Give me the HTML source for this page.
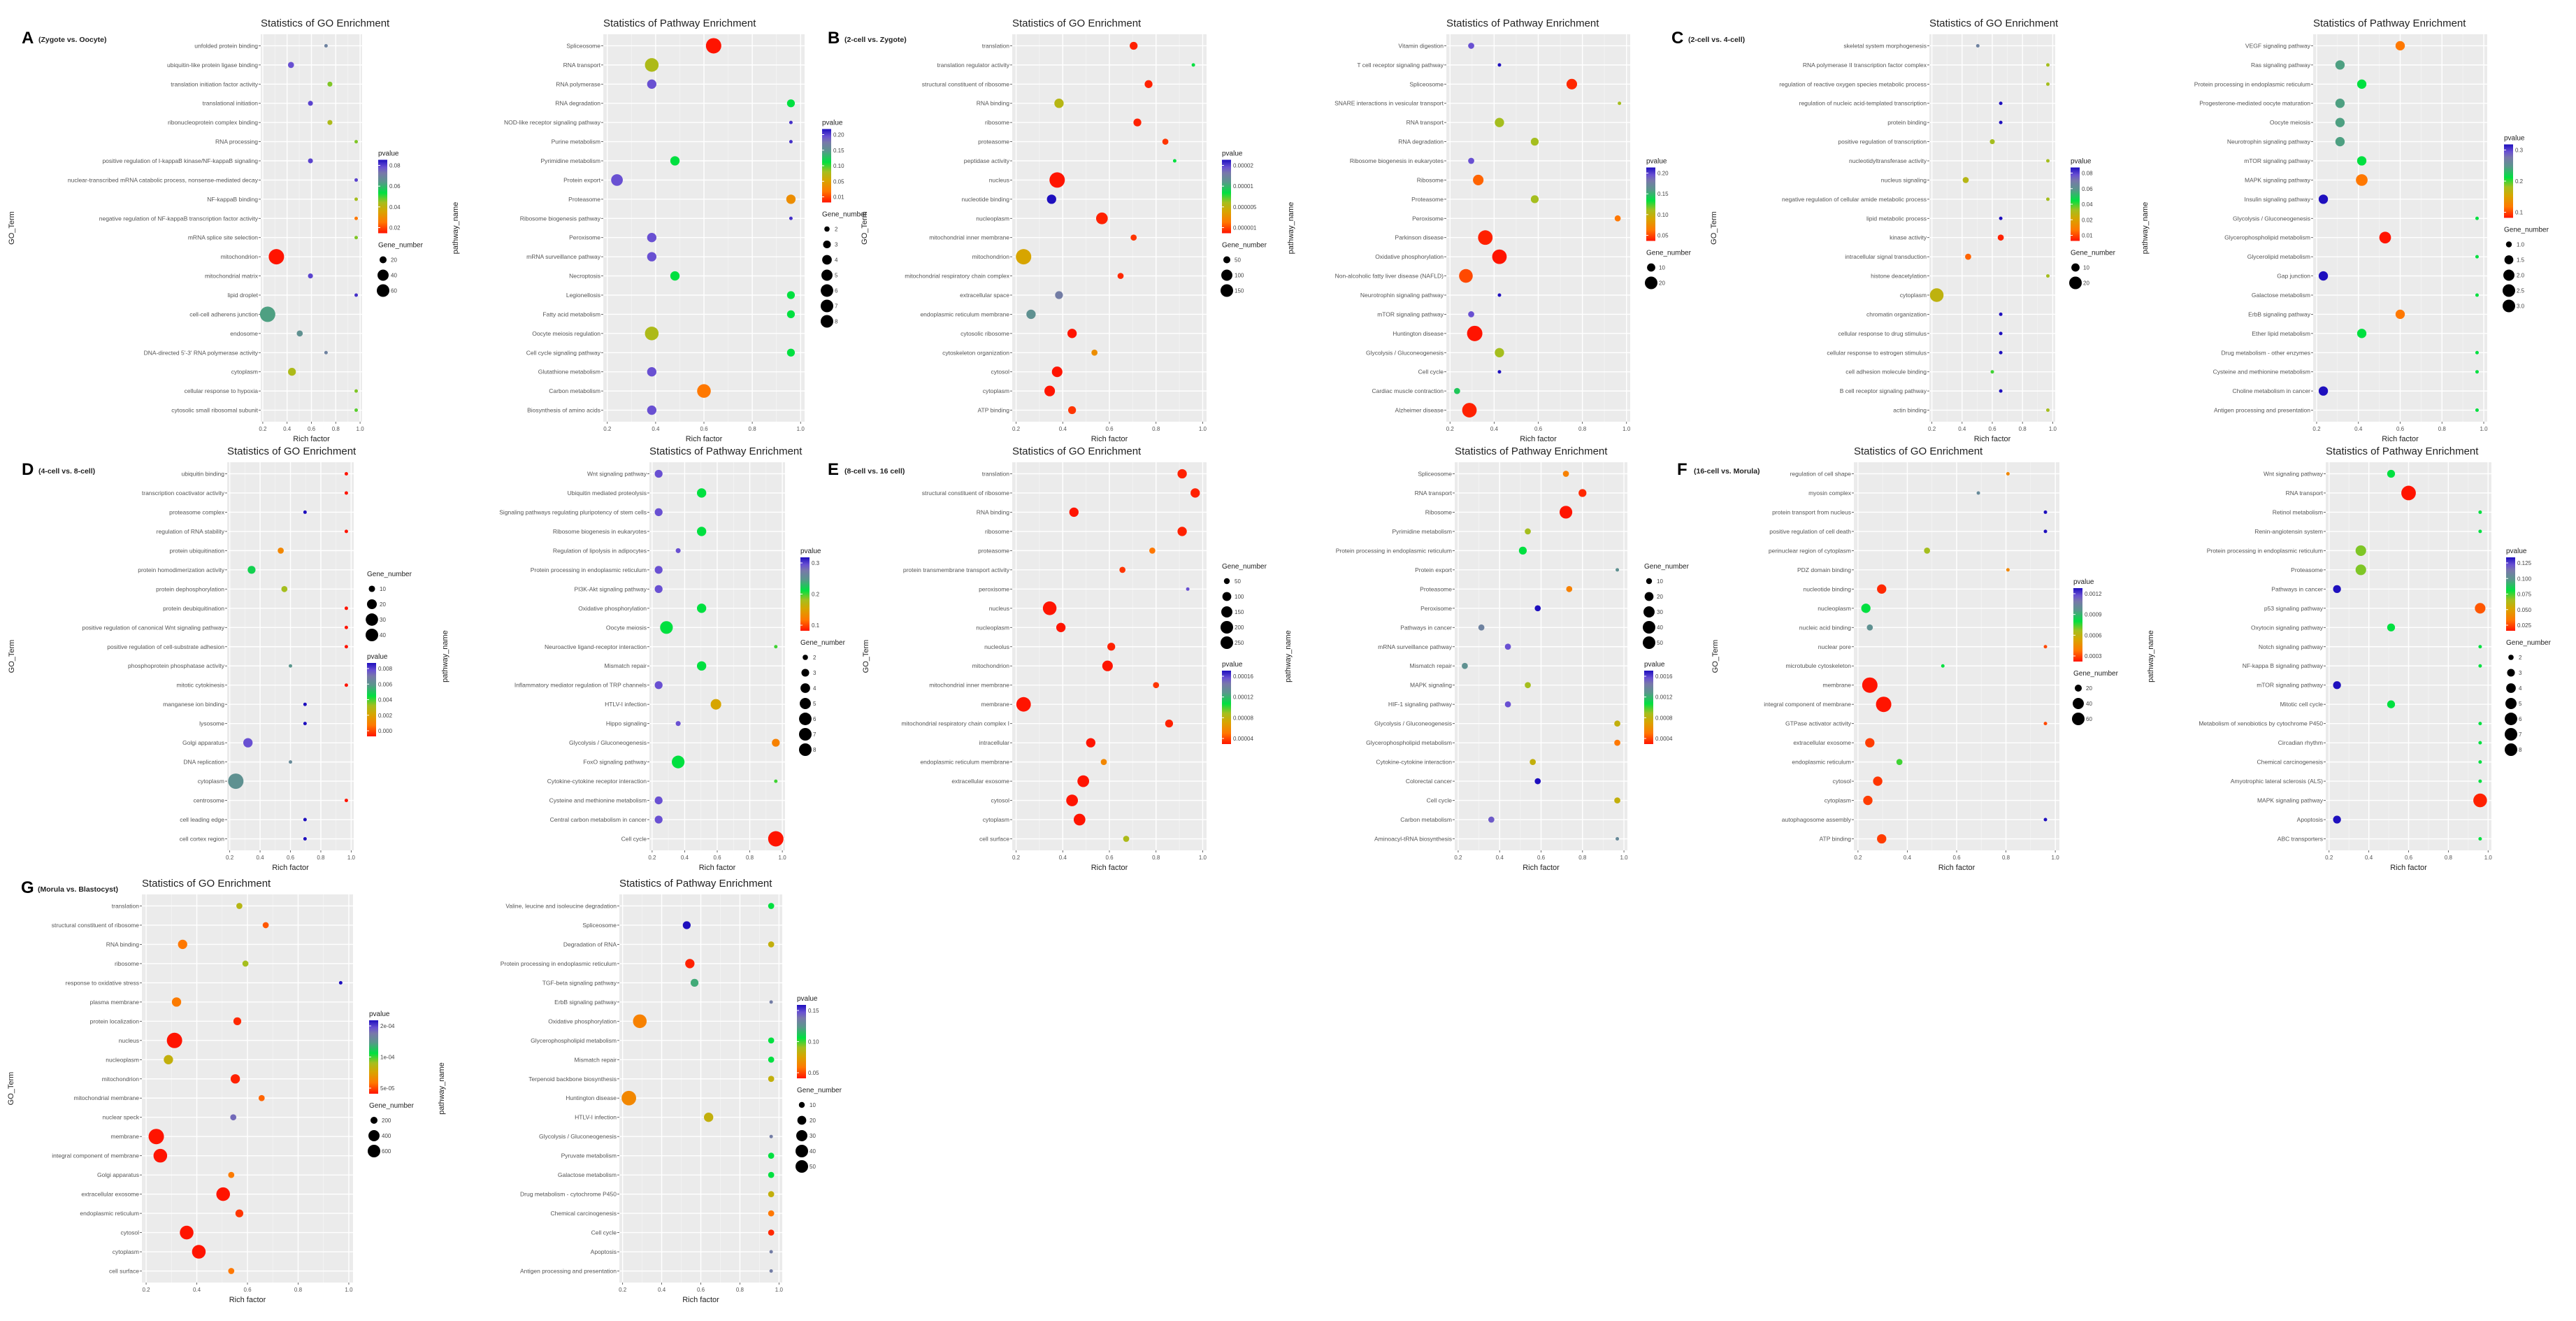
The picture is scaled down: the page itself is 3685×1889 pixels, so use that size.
<!DOCTYPE html>
<html><head><meta charset="utf-8">
<style>
html,body{margin:0;padding:0;background:#fff;}
svg{display:block;font-family:"Liberation Sans",sans-serif;}
</style></head>
<body>
<svg id="fig" width="3685" height="1889" viewBox="0 0 3685 1889" xmlns="http://www.w3.org/2000/svg">
<rect width="3685" height="1889" fill="#fff"/>
</svg>
<script>
// ---------- DATA ----------
const A_GO_terms=["unfolded protein binding","ubiquitin-like protein ligase binding","translation initiation factor activity","translational initiation","ribonucleoprotein complex binding","RNA processing","positive regulation of I-kappaB kinase/NF-kappaB signaling","nuclear-transcribed mRNA catabolic process, nonsense-mediated decay","NF-kappaB binding","negative regulation of NF-kappaB transcription factor activity","mRNA splice site selection","mitochondrion","mitochondrial matrix","lipid droplet","cell-cell adherens junction","endosome","DNA-directed 5'-3' RNA polymerase activity","cytoplasm","cellular response to hypoxia","cytosolic small ribosomal subunit"];
const A_GO_rich=[0.65,0.29,0.69,0.49,0.69,0.96,0.49,0.96,0.96,0.96,0.96,0.14,0.49,0.96,0.05,0.38,0.65,0.30,0.96,0.96];
const A_GO_p=[0.78,0.9,0.45,0.92,0.4,0.45,0.92,0.92,0.42,0.15,0.45,0.0,0.92,0.95,0.68,0.72,0.78,0.4,0.45,0.48];
const A_GO_genes=[1,2,1.5,1.5,1.5,1,1.5,1,1,1,1,10,1.5,1,10,2,1,3,1,1];
const A_GO_pLabels=["0.08","0.06","0.04","0.02"];
const A_GO_gLabels=["20","40","60"];

const A_PW_terms=["Spliceosome","RNA transport","RNA polymerase","RNA degradation","NOD-like receptor signaling pathway","Purine metabolism","Pyrimidine metabolism","Protein export","Proteasome","Ribosome biogenesis pathway","Peroxisome","mRNA surveillance pathway","Necroptosis","Legionellosis","Fatty acid metabolism","Oocyte meiosis regulation","Cell cycle signaling pathway","Glutathione metabolism","Carbon metabolism","Biosynthesis of amino acids"];
const A_PW_rich=[0.55,0.23,0.23,0.95,0.95,0.95,0.35,0.05,0.95,0.95,0.23,0.23,0.35,0.95,0.95,0.23,0.95,0.23,0.50,0.23];
const A_PW_p=[0.0,0.4,0.9,0.55,0.95,0.95,0.55,0.9,0.22,0.95,0.9,0.9,0.55,0.55,0.55,0.4,0.55,0.9,0.15,0.9];
const A_PW_genes=[10,8,4,3,1,1,4,6,4,1,4,4,4,3,3,8,3,4,8,4];
const A_PW_pLabels=["0.20","0.15","0.10","0.05","0.01"];
const A_PW_gLabels=["2","3","4","5","6","7","8"];

const B_GO_terms=["translation","translation regulator activity","structural constituent of ribosome","RNA binding","ribosome","proteasome","peptidase activity","nucleus","nucleotide binding","nucleoplasm","mitochondrial inner membrane","mitochondrion","mitochondrial respiratory chain complex","extracellular space","endoplasmic reticulum membrane","cytosolic ribosome","cytoskeleton organization","cytosol","cytoplasm","ATP binding"];
const B_GO_rich=[0.63,0.95,0.71,0.23,0.65,0.80,0.85,0.22,0.19,0.46,0.63,0.04,0.56,0.23,0.08,0.30,0.42,0.22,0.18,0.30];
const B_GO_p=[0.02,0.55,0.02,0.38,0.02,0.05,0.55,0.0,1.0,0.02,0.05,0.3,0.03,0.8,0.72,0.0,0.22,0.0,0.0,0.05];
const B_GO_genes=[3,1,3,4,3,2,1,10,4,6,2,10,2,3,4,4,2,5,5,3];
const B_GO_pLabels=["0.00002","0.00001","0.000005","0.000001"];
const B_GO_gLabels=["50","100","150"];

const B_PW_terms=["Vitamin digestion","T cell receptor signaling pathway","Spliceosome","SNARE interactions in vesicular transport","RNA transport","RNA degradation","Ribosome biogenesis in eukaryotes","Ribosome","Proteasome","Peroxisome","Parkinson disease","Oxidative phosphorylation","Non-alcoholic fatty liver disease (NAFLD)","Neurotrophin signaling pathway","mTOR signaling pathway","Huntington disease","Glycolysis / Gluconeogenesis","Cell cycle","Cardiac muscle contraction","Alzheimer disease"];
const B_PW_rich=[0.12,0.28,0.69,0.96,0.28,0.48,0.12,0.16,0.48,0.95,0.20,0.28,0.09,0.28,0.12,0.14,0.28,0.28,0.04,0.11];
const B_PW_p=[0.9,1.0,0.03,0.42,0.42,0.42,0.9,0.12,0.42,0.15,0.02,0.0,0.08,1.0,0.9,0.0,0.42,1.0,0.6,0.02];
const B_PW_genes=[2,1,5,1,4,3,2,5,3,2,9,9,8,1,2,10,4,1,2,9];
const B_PW_pLabels=["0.20","0.15","0.10","0.05"];
const B_PW_gLabels=["10","20"];

const C_GO_terms=["skeletal system morphogenesis","RNA polymerase II transcription factor complex","regulation of reactive oxygen species metabolic process","regulation of nucleic acid-templated transcription","protein binding","positive regulation of transcription","nucleotidyltransferase activity","nucleus signaling","negative regulation of cellular amide metabolic process","lipid metabolic process","kinase activity","intracellular signal transduction","histone deacetylation","cytoplasm","chromatin organization","cellular response to drug stimulus","cellular response to estrogen stimulus","cell adhesion molecule binding","B cell receptor signaling pathway","actin binding"];
const C_GO_rich=[0.38,0.96,0.96,0.57,0.57,0.50,0.96,0.28,0.96,0.57,0.57,0.30,0.96,0.04,0.57,0.57,0.57,0.50,0.57,0.96];
const C_GO_p=[0.78,0.42,0.42,1.0,1.0,0.42,0.42,0.38,0.42,1.0,0.02,0.12,0.42,0.36,1.0,1.0,1.0,0.5,1.0,0.42];
const C_GO_genes=[1,1,1,1,1,1.5,1,2,1,1,2,2,1,8,1,1,1,1,1,1];
const C_GO_pLabels=["0.08","0.06","0.04","0.02","0.01"];
const C_GO_gLabels=["10","20"];

const C_PW_terms=["VEGF signaling pathway","Ras signaling pathway","Protein processing in endoplasmic reticulum","Progesterone-mediated oocyte maturation","Oocyte meiosis","Neurotrophin signaling pathway","mTOR signaling pathway","MAPK signaling pathway","Insulin signaling pathway","Glycolysis / Gluconeogenesis","Glycerophospholipid metabolism","Glycerolipid metabolism","Gap junction","Galactose metabolism","ErbB signaling pathway","Ether lipid metabolism","Drug metabolism - other enzymes","Cysteine and methionine metabolism","Choline metabolism in cancer","Antigen processing and presentation"];
const C_PW_rich=[0.50,0.14,0.27,0.14,0.14,0.14,0.27,0.27,0.04,0.96,0.41,0.96,0.04,0.96,0.50,0.27,0.96,0.96,0.04,0.96];
const C_PW_p=[0.15,0.68,0.55,0.68,0.68,0.68,0.55,0.15,1.0,0.55,0.0,0.55,1.0,0.55,0.15,0.55,0.55,0.55,1.0,0.55];
const C_PW_genes=[4,4,4,4,4,4,4,6,4,1,6,1,4,1,4,4,1,1,4,1];
const C_PW_pLabels=["0.3","0.2","0.1"];
const C_PW_gLabels=["1.0","1.5","2.0","2.5","3.0"];

const D_GO_terms=["ubiquitin binding","transcription coactivator activity","proteasome complex","regulation of RNA stability","protein ubiquitination","protein homodimerization activity","protein dephosphorylation","protein deubiquitination","positive regulation of canonical Wnt signaling pathway","positive regulation of cell-substrate adhesion","phosphoprotein phosphatase activity","mitotic cytokinesis","manganese ion binding","lysosome","Golgi apparatus","DNA replication","cytoplasm","centrosome","cell leading edge","cell cortex region"];
const D_GO_rich=[0.96,0.96,0.62,0.96,0.42,0.18,0.45,0.96,0.96,0.96,0.50,0.96,0.62,0.62,0.15,0.50,0.05,0.96,0.62,0.62];
const D_GO_p=[0.0,0.0,1.0,0.0,0.2,0.58,0.42,0.0,0.0,0.0,0.7,0.0,1.0,1.0,0.9,0.75,0.72,0.0,1.0,1.0];
const D_GO_genes=[1,1,1,1,2,3,2,1,1,1,1,1,1,1,4,1,10,1,1,1];
const D_GO_pLabels=["0.008","0.006","0.004","0.002","0.000"];
const D_GO_gLabels=["10","20","30","40"];

const D_PW_terms=["Wnt signaling pathway","Ubiquitin mediated proteolysis","Signaling pathways regulating pluripotency of stem cells","Ribosome biogenesis in eukaryotes","Regulation of lipolysis in adipocytes","Protein processing in endoplasmic reticulum","PI3K-Akt signaling pathway","Oxidative phosphorylation","Oocyte meiosis","Neuroactive ligand-receptor interaction","Mismatch repair","Inflammatory mediator regulation of TRP channels","HTLV-I infection","Hippo signaling","Glycolysis / Gluconeogenesis","FoxO signaling pathway","Cytokine-cytokine receptor interaction","Cysteine and methionine metabolism","Central carbon metabolism in cancer","Cell cycle"];
const D_PW_rich=[0.05,0.38,0.05,0.38,0.20,0.05,0.05,0.38,0.11,0.95,0.38,0.05,0.49,0.20,0.95,0.20,0.95,0.05,0.05,0.95];
const D_PW_p=[0.9,0.55,0.9,0.55,0.9,0.9,0.9,0.55,0.55,0.5,0.55,0.9,0.3,0.9,0.18,0.55,0.5,0.9,0.9,0.0];
const D_PW_genes=[3,4,3,4,1.5,3,3,4,7,1,4,3,5,1.5,3,7,1,3,3,10];
const D_PW_pLabels=["0.3","0.2","0.1"];
const D_PW_gLabels=["2","3","4","5","6","7","8"];

const E_GO_terms=["translation","structural constituent of ribosome","RNA binding","ribosome","proteasome","protein transmembrane transport activity","peroxisome","nucleus","nucleoplasm","nucleolus","mitochondrion","mitochondrial inner membrane","membrane","mitochondrial respiratory chain complex I","intracellular","endoplasmic reticulum membrane","extracellular exosome","cytosol","cytoplasm","cell surface"];
const E_GO_rich=[0.89,0.96,0.31,0.89,0.73,0.57,0.92,0.18,0.24,0.51,0.49,0.75,0.04,0.82,0.40,0.47,0.36,0.30,0.34,0.59];
const E_GO_p=[0.02,0.02,0.0,0.02,0.15,0.05,0.9,0.0,0.0,0.02,0.0,0.05,0.0,0.02,0.0,0.2,0.0,0.0,0.0,0.4];
const E_GO_genes=[4,4,4,4,2,2,1,8,4,3,5,2,9,3,4,2,6,6,6,2];
const E_GO_pLabels=["0.00016","0.00012","0.00008","0.00004"];
const E_GO_gLabels=["50","100","150","200","250"];

const E_PW_terms=["Spliceosome","RNA transport","Ribosome","Pyrimidine metabolism","Protein processing in endoplasmic reticulum","Protein export","Proteasome","Peroxisome","Pathways in cancer","mRNA surveillance pathway","Mismatch repair","MAPK signaling","HIF-1 signaling pathway","Glycolysis / Gluconeogenesis","Glycerophospholipid metabolism","Cytokine-cytokine interaction","Colorectal cancer","Cell cycle","Carbon metabolism","Aminoacyl-tRNA biosynthesis"];
const E_PW_rich=[0.65,0.75,0.65,0.42,0.39,0.96,0.67,0.48,0.14,0.30,0.04,0.42,0.30,0.96,0.96,0.45,0.48,0.96,0.20,0.96];
const E_PW_p=[0.18,0.03,0.0,0.42,0.55,0.72,0.18,1.0,0.78,0.9,0.72,0.42,0.9,0.35,0.15,0.35,1.0,0.35,0.88,0.75];
const E_PW_genes=[2,3,7,2,3,1,2,2,2,2,2,2,2,2,2,2,2,2,2,1];
const E_PW_pLabels=["0.0016","0.0012","0.0008","0.0004"];
const E_PW_gLabels=["10","20","30","40","50"];

const F_GO_terms=["regulation of cell shape","myosin complex","protein transport from nucleus","positive regulation of cell death","perinuclear region of cytoplasm","PDZ domain binding","nucleotide binding","nucleoplasm","nucleic acid binding","nuclear pore","microtubule cytoskeleton","membrane","integral component of membrane","GTPase activator activity","extracellular exosome","endoplasmic reticulum","cytosol","cytoplasm","autophagosome assembly","ATP binding"];
const F_GO_rich=[0.76,0.61,0.95,0.95,0.35,0.76,0.12,0.04,0.06,0.95,0.43,0.06,0.13,0.95,0.06,0.21,0.10,0.05,0.95,0.12];
const F_GO_p=[0.2,0.75,1.0,1.0,0.42,0.2,0.03,0.55,0.72,0.08,0.55,0.0,0.0,0.08,0.06,0.5,0.05,0.06,1.0,0.06];
const F_GO_genes=[1,1,1,1,2,1,4,4,2,1,1,10,10,1,4,2,4,4,1,4];
const F_GO_pLabels=["0.0012","0.0009","0.0006","0.0003"];
const F_GO_gLabels=["20","40","60"];

const F_PW_terms=["Wnt signaling pathway","RNA transport","Retinol metabolism","Renin-angiotensin system","Protein processing in endoplasmic reticulum","Proteasome","Pathways in cancer","p53 signaling pathway","Oxytocin signaling pathway","Notch signaling pathway","NF-kappa B signaling pathway","mTOR signaling pathway","Mitotic cell cycle","Metabolism of xenobiotics by cytochrome P450","Circadian rhythm","Chemical carcinogenesis","Amyotrophic lateral sclerosis (ALS)","MAPK signaling pathway","Apoptosis","ABC transporters"];
const F_PW_rich=[0.39,0.50,0.95,0.95,0.20,0.20,0.05,0.95,0.39,0.95,0.95,0.05,0.39,0.95,0.95,0.95,0.95,0.95,0.05,0.95];
const F_PW_p=[0.55,0.0,0.55,0.55,0.45,0.45,1.0,0.1,0.55,0.55,0.55,1.0,0.55,0.55,0.55,0.55,0.55,0.02,1.0,0.55];
const F_PW_genes=[3,9,1,1,5,5,3,5,3,1,1,3,3,1,1,1,1,8,3,1];
const F_PW_pLabels=["0.125","0.100","0.075","0.050","0.025"];
const F_PW_gLabels=["2","3","4","5","6","7","8"];

const G_GO_terms=["translation","structural constituent of ribosome","RNA binding","ribosome","response to oxidative stress","plasma membrane","protein localization","nucleus","nucleoplasm","mitochondrion","mitochondrial membrane","nuclear speck","membrane","integral component of membrane","Golgi apparatus","extracellular exosome","endoplasmic reticulum","cytosol","cytoplasm","cell surface"];
const G_GO_rich=[0.46,0.59,0.18,0.49,0.96,0.15,0.45,0.14,0.11,0.44,0.57,0.43,0.05,0.07,0.42,0.38,0.46,0.20,0.26,0.42];
const G_GO_p=[0.38,0.1,0.15,0.42,1.0,0.16,0.03,0.0,0.35,0.02,0.12,0.85,0.0,0.0,0.16,0.0,0.05,0.0,0.0,0.15];
const G_GO_genes=[2,2,4,2,1,4,3,10,4,4,2,2,10,8,2,8,3,8,8,2];
const G_GO_pLabels=["2e-04","1e-04","5e-05"];
const G_GO_gLabels=["200","400","600"];

const G_PW_terms=["Valine, leucine and isoleucine degradation","Spliceosome","Degradation of RNA","Protein processing in endoplasmic reticulum","TGF-beta signaling pathway","ErbB signaling pathway","Oxidative phosphorylation","Glycerophospholipid metabolism","Mismatch repair","Terpenoid backbone biosynthesis","Huntington disease","HTLV-I infection","Glycolysis / Gluconeogenesis","Pyruvate metabolism","Galactose metabolism","Drug metabolism - cytochrome P450","Chemical carcinogenesis","Cell cycle","Apoptosis","Antigen processing and presentation"];
const G_PW_rich=[0.95,0.41,0.95,0.43,0.46,0.95,0.11,0.95,0.95,0.95,0.04,0.55,0.95,0.95,0.95,0.95,0.95,0.95,0.95,0.95];
const G_PW_p=[0.55,1.0,0.35,0.02,0.66,0.8,0.18,0.55,0.55,0.35,0.2,0.35,0.8,0.55,0.55,0.35,0.15,0.03,0.8,0.8];
const G_PW_genes=[2,3,2,4,3,1,8,2,2,2,9,4,1,2,2,2,2,2,1,1];
const G_PW_pLabels=["0.15","0.10","0.05"];
const G_PW_gLabels=["10","20","30","40","50"];

const xTicks=[0.0,0.25,0.5,0.75,1.0];
const xTickLabels=["0.2","0.4","0.6","0.8","1.0"];

// ---------- LAYOUT ----------
const NS="http://www.w3.org/2000/svg";
const svg=document.getElementById('fig');
function mk(tag,attrs,parent){const e=document.createElementNS(NS,tag);for(const k in attrs)e.setAttribute(k,attrs[k]);(parent||svg).appendChild(e);return e;}
const stops=[[0,[255,20,0]],[0.15,[255,120,0]],[0.3,[215,165,0]],[0.42,[165,190,30]],[0.55,[0,224,64]],[0.7,[90,150,140]],[0.82,[120,120,170]],[0.9,[105,80,210]],[1,[30,15,190]]];
function pcol(v){v=Math.max(0,Math.min(1,v));for(let i=1;i<stops.length;i++){if(v<=stops[i][0]){const a=stops[i-1],b=stops[i],t=(v-a[0])/(b[0]-a[0]);return 'rgb('+a[1].map((c,j)=>Math.round(c+(b[1][j]-c)*t)).join(',')+')';}}return 'rgb(30,15,190)';}
function rad(g){return Math.sqrt(6.25+(121-6.25)*Math.max(0,g-1)/9);}

const rows=[{top:49,bottom:603},{top:661,bottom:1216},{top:1279,bottom:1834}];
const panels=[
 {k:'A-go',r:0,L:373,R:518,yt:'GO_Term',ytx:20,lx:541,gf:false,title:'Statistics of GO Enrichment',terms:A_GO_terms,rich:A_GO_rich,p:A_GO_p,genes:A_GO_genes,pl:A_GO_pLabels,gl:A_GO_gLabels},
 {k:'A-pathway',r:0,L:863,R:1151,yt:'pathway_name',ytx:655,gf:false,lx:1176,title:'Statistics of Pathway Enrichment',terms:A_PW_terms,rich:A_PW_rich,p:A_PW_p,genes:A_PW_genes,pl:A_PW_pLabels,gl:A_PW_gLabels},
 {k:'B-go',r:0,L:1448,R:1726,yt:'GO_Term',ytx:1240,gf:false,lx:1748,title:'Statistics of GO Enrichment',terms:B_GO_terms,rich:B_GO_rich,p:B_GO_p,genes:B_GO_genes,pl:B_GO_pLabels,gl:B_GO_gLabels},
 {k:'B-pathway',r:0,L:2069,R:2332,yt:'pathway_name',ytx:1850,gf:false,lx:2355,title:'Statistics of Pathway Enrichment',terms:B_PW_terms,rich:B_PW_rich,p:B_PW_p,genes:B_PW_genes,pl:B_PW_pLabels,gl:B_PW_gLabels},
 {k:'C-go',r:0,L:2760,R:2940,yt:'GO_Term',ytx:2455,gf:false,lx:2962,title:'Statistics of GO Enrichment',terms:C_GO_terms,rich:C_GO_rich,p:C_GO_p,genes:C_GO_genes,pl:C_GO_pLabels,gl:C_GO_gLabels},
 {k:'C-pathway',r:0,L:3309,R:3558,yt:'pathway_name',ytx:3072,gf:false,lx:3582,title:'Statistics of Pathway Enrichment',terms:C_PW_terms,rich:C_PW_rich,p:C_PW_p,genes:C_PW_genes,pl:C_PW_pLabels,gl:C_PW_gLabels},
 {k:'D-go',r:1,L:325,R:506,yt:'GO_Term',ytx:20,gf:true,lx:525,title:'Statistics of GO Enrichment',terms:D_GO_terms,rich:D_GO_rich,p:D_GO_p,genes:D_GO_genes,pl:D_GO_pLabels,gl:D_GO_gLabels},
 {k:'D-pathway',r:1,L:929,R:1123,yt:'pathway_name',ytx:640,gf:false,lx:1145,title:'Statistics of Pathway Enrichment',terms:D_PW_terms,rich:D_PW_rich,p:D_PW_p,genes:D_PW_genes,pl:D_PW_pLabels,gl:D_PW_gLabels},
 {k:'E-go',r:1,L:1448,R:1726,yt:'GO_Term',ytx:1242,gf:true,lx:1748,title:'Statistics of GO Enrichment',terms:E_GO_terms,rich:E_GO_rich,p:E_GO_p,genes:E_GO_genes,pl:E_GO_pLabels,gl:E_GO_gLabels},
 {k:'E-pathway',r:1,L:2081,R:2328,yt:'pathway_name',ytx:1846,gf:true,lx:2352,title:'Statistics of Pathway Enrichment',terms:E_PW_terms,rich:E_PW_rich,p:E_PW_p,genes:E_PW_genes,pl:E_PW_pLabels,gl:E_PW_gLabels},
 {k:'F-go',r:1,L:2652,R:2946,yt:'GO_Term',ytx:2457,gf:false,lx:2966,title:'Statistics of GO Enrichment',terms:F_GO_terms,rich:F_GO_rich,p:F_GO_p,genes:F_GO_genes,pl:F_GO_pLabels,gl:F_GO_gLabels},
 {k:'F-pathway',r:1,L:3327,R:3564,yt:'pathway_name',ytx:3080,gf:false,lx:3585,title:'Statistics of Pathway Enrichment',terms:F_PW_terms,rich:F_PW_rich,p:F_PW_p,genes:F_PW_genes,pl:F_PW_pLabels,gl:F_PW_gLabels},
 {k:'G-go',r:2,L:203,R:505,yt:'GO_Term',ytx:19,gf:false,lx:528,title:'Statistics of GO Enrichment',terms:G_GO_terms,rich:G_GO_rich,p:G_GO_p,genes:G_GO_genes,pl:G_GO_pLabels,gl:G_GO_gLabels},
 {k:'G-pathway',r:2,L:886,R:1119,yt:'pathway_name',ytx:635,gf:false,lx:1140,title:'Statistics of Pathway Enrichment',terms:G_PW_terms,rich:G_PW_rich,p:G_PW_p,genes:G_PW_genes,pl:G_PW_pLabels,gl:G_PW_gLabels}
];

// gradient def
const defs=mk('defs',{});
const lg=mk('linearGradient',{id:'pgrad',x1:0,y1:1,x2:0,y2:0},defs);
stops.forEach(s=>mk('stop',{offset:s[0],'stop-color':pcol(s[0])},lg));

panels.forEach(P=>{
  const row=rows[P.r];
  const g=mk('g',{});
  
  
  const W=P.R-P.L,H=row.bottom-row.top,n=P.terms.length;
  const xs=v=>P.L+W*(0.02+0.96*v);
  const step=H/(n-1+1.2);
  const ys=i=>row.top+(0.6+i)*step;
  const bg=mk('rect',{x:P.L,y:row.top,width:W,height:H,fill:'#ebebeb'},g);
  
  
  // minor vertical grid
  for(let i=0;i<xTicks.length-1;i++){const mx=xs((xTicks[i]+xTicks[i+1])/2);mk('line',{x1:mx,x2:mx,y1:row.top,y2:row.bottom,stroke:'#f5f5f5','stroke-width':0.7},g);}
  xTicks.forEach((t,i)=>{
    const x=xs(t);
    mk('line',{x1:x,x2:x,y1:row.top,y2:row.bottom,stroke:'#fff','stroke-width':1.4},g);
    mk('line',{x1:x,x2:x,y1:row.bottom,y2:row.bottom+3,stroke:'#444','stroke-width':0.8},g);
    const tl=mk('text',{x:x,y:row.bottom+13,'font-size':8,'text-anchor':'middle',fill:'#555'},g);
    tl.textContent=xTickLabels[i];
    
    
  });
  P.terms.forEach((t,i)=>{
    const y=ys(i);
    mk('line',{x1:P.L,x2:P.R,y1:y,y2:y,stroke:'#fff','stroke-width':1.4},g);
    mk('line',{x1:P.L-3,x2:P.L,y1:y,y2:y,stroke:'#444','stroke-width':0.8},g);
    const tx=mk('text',{x:P.L-4,y:y+3,'font-size':8.5,'text-anchor':'end',fill:'#555'},g);
    tx.textContent=t;
    
    
  });
  P.terms.forEach((t,i)=>{
    const c=mk('circle',{cx:xs(P.rich[i]),cy:ys(i),r:rad(P.genes[i]),fill:pcol(P.p[i])},g);
    
    
  });
  const ti=mk('text',{x:P.L,y:row.top-11,'font-size':15,fill:'#222'},g);
  ti.textContent=P.title;
  
  
  const xl=mk('text',{x:(P.L+P.R)/2,y:row.bottom+28,'font-size':11,'text-anchor':'middle',fill:'#222'},g);
  xl.textContent='Rich factor';
  
  
  const yc=(row.top+row.bottom)/2;
  const yl=mk('text',{x:P.ytx,y:yc,'font-size':11,'text-anchor':'middle',fill:'#222',transform:'rotate(-90 '+P.ytx+' '+yc+')'},g);
  yl.textContent=P.yt;
  
  
  // legends
  const pH=18+105, gH=18+P.gl.length*22;
  let y0=yc-(pH+gH+20)/2;
  function pLeg(y){
    const t=mk('text',{x:P.lx,y:y+10,'font-size':10,fill:'#222'},g);t.textContent='pvalue';
    
    
    const b=mk('rect',{x:P.lx,y:y+16,width:13,height:105,fill:'url(#pgrad)'},g);
    
    
    P.pl.forEach((s,i)=>{const ly=y+16+8+i*(89/(Math.max(1,P.pl.length-1)));
      mk('line',{x1:P.lx,x2:P.lx+3,y1:ly,y2:ly,stroke:'#fff'},g);
      const lt=mk('text',{x:P.lx+16,y:ly+3,'font-size':8,fill:'#444'},g);lt.textContent=s;
      
      });
    return y+pH+8;
  }
  function gLeg(y){
    const t=mk('text',{x:P.lx,y:y+10,'font-size':10,fill:'#222'},g);t.textContent='Gene_number';
    
    
    const m=P.gl.length;
    P.gl.forEach((s,i)=>{const cy=y+28+i*22;const gg=m===1?10:1+9*(i+0.5)/m;
      const c=mk('circle',{cx:P.lx+7,cy:cy,r:Math.min(9,rad(gg)),fill:'#000'},g);
      
      
      const lt=mk('text',{x:P.lx+18,y:cy+3,'font-size':8,fill:'#444'},g);lt.textContent=s;
      
      });
    return y+gH+12;
  }
  if(P.gf){y0=gLeg(y0);pLeg(y0);}else{y0=pLeg(y0);gLeg(y0);}
});

const letters=[['A','(Zygote vs. Oocyte)',31,53],['B','(2-cell vs. Zygote)',1184,53],['C','(2-cell vs. 4-cell)',2391,53],['D','(4-cell vs. 8-cell)',31,670],['E','(8-cell vs. 16 cell)',1184,670],['F','(16-cell vs. Morula)',2399,670],['G','(Morula vs. Blastocyst)',30,1268]];
letters.forEach(l=>{
  const a=mk('text',{x:l[2],y:l[3]+9,'font-size':24,'font-weight':'bold',fill:'#000'});
  a.textContent=l[0];
  
  
  const b=mk('text',{x:l[2]+24,y:l[3]+7,'font-size':10.5,'font-weight':'bold',fill:'#222'});
  b.textContent=l[1];
  
  
});
</script>
</body></html>
